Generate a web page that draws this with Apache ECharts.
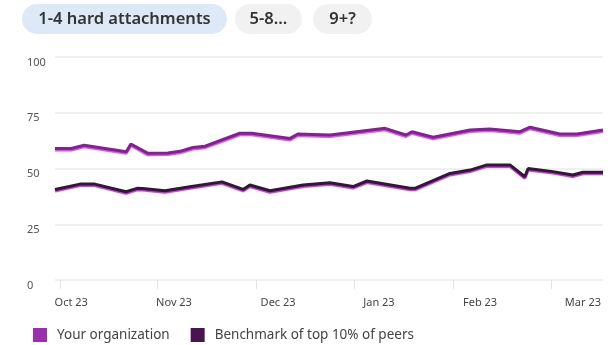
<!DOCTYPE html>
<html>
<head>
<meta charset="utf-8">
<script src="https://cdn.jsdelivr.net/npm/echarts@6/dist/echarts.min.js"></script>
<style>
html,body{margin:0;padding:0;background:#fff;}
#c{width:610px;height:345px;}
</style>
</head>
<body>
<div id="c"></div>
<script>
// Tabs
const tabs = ['1-4 hard attachments', '5-8...', '9+?'];
// x in days since start of plotted period
const tickDays = [1.5, 31.5, 62, 92.2, 122.7, 152.9];
const labelDays = [5, 36.7, 68.8, 99.9, 131.1, 162.8];
const tickLabels = ['Oct 23', 'Nov 23', 'Dec 23', 'Jan 23', 'Feb 23', 'Mar 23'];
const seriesNames = ['Your organization', 'Benchmark of top 10% of peers'];
const orgDays =   [0, 5, 9, 22, 23.4, 28.7, 34.8, 38.5, 42.5, 46.3, 57, 60.7, 72.5, 74.9, 79.6, 84.8, 101.8, 108.2, 110.1, 116.6, 128, 134.1, 143.4, 146.5, 155.7, 161, 169];
const orgValues = [59, 59, 60.4, 57.5, 61, 56.8, 57, 57.7, 59.4, 60, 65.8, 65.8, 63.5, 65.5, 65.3, 65, 68, 65, 66.5, 64, 67.3, 67.7, 66.5, 68.5, 65.5, 65.5, 67.3];
const benchDays =   [0, 7.7, 12.3, 21.9, 25.3, 27.1, 33.9, 41.6, 51.5, 58, 60.1, 66.3, 76.5, 84.8, 91.9, 96.2, 109.5, 111, 121.8, 128, 133.2, 140.3, 144.9, 145.9, 153.6, 159.7, 162.8, 169];
const benchValues = [40.6, 43, 43, 39.6, 41.1, 41, 40, 41.8, 44, 40.6, 42.6, 40, 42.6, 43.6, 41.9, 44.4, 41.1, 41.1, 47.8, 49.3, 51.6, 51.6, 46.3, 50, 48.6, 47.1, 48.3, 48.3];
const yTicks = [0, 25, 50, 75, 100];

const chart = echarts.init(document.getElementById('c'), null, {renderer: 'canvas'});
const font = '"Noto Sans", "Open Sans", sans-serif';

const pillX = [22, 235, 313];
const pillW = [205, 67, 59];
const pillFill = ['#dde9f7', '#f1f1f1', '#f1f1f1'];
const graphics = tabs.map((t, i) => ({
  type: 'group', left: pillX[i], top: 4,
  children: [
    {type: 'rect', shape: {x: 0, y: 0, width: pillW[i], height: 30, r: 15}, style: {fill: pillFill[i]}},
    {type: 'text', style: {x: pillW[i] / 2, y: 15, text: t, align: 'center', verticalAlign: 'middle', fill: '#333', font: '600 16.5px ' + font}}
  ]
}));

chart.setOption({
  animation: false,
  textStyle: {fontFamily: font},
  graphic: graphics,
  grid: {left: 55, right: 7, top: 57, bottom: 65},
  legend: {
    left: 28, top: 323, icon: 'rect', itemWidth: 14, itemHeight: 14, itemGap: 21,
    textStyle: {fontSize: 13.5, color: '#444', fontFamily: font, padding: [0, 0, 0, 5]},
    data: seriesNames
  },
  xAxis: {
    type: 'value', min: 0, max: 169,
    axisLine: {show: false},
    splitLine: {show: false},
    axisTick: {show: true, length: 9, customValues: tickDays, lineStyle: {color: '#e2e2e2'}},
    axisLabel: {
      customValues: labelDays, margin: 17, fontSize: 11, color: '#444',
      formatter: v => { const i = labelDays.indexOf(v); return i >= 0 ? tickLabels[i] : ''; }
    }
  },
  yAxis: {
    type: 'value', min: 0, max: 100, interval: 25,
    axisLine: {show: false}, axisTick: {show: false},
    splitLine: {lineStyle: {color: '#ebebeb', width: 1.5}},
    axisLabel: {align: 'left', margin: 28, fontSize: 11, color: '#555', verticalAlign: 'top',
      formatter: v => yTicks.includes(v) ? String(v) : ''}
  },
  series: [
    {
      name: seriesNames[0], type: 'line', showSymbol: false, symbol: 'none',
      itemStyle: {color: '#9b2fae'},
      lineStyle: {color: '#7a2886', width: 3, shadowColor: '#d848e8', shadowOffsetY: 1.5, shadowBlur: 1},
      data: orgDays.map((d, i) => [d, orgValues[i]])
    },
    {
      name: seriesNames[1], type: 'line', showSymbol: false, symbol: 'none',
      itemStyle: {color: '#4a1450'},
      lineStyle: {color: '#2e1a32', width: 3, shadowColor: '#b838c8', shadowOffsetY: 1.5, shadowBlur: 1},
      data: benchDays.map((d, i) => [d, benchValues[i]])
    }
  ]
});
</script>
</body>
</html>
